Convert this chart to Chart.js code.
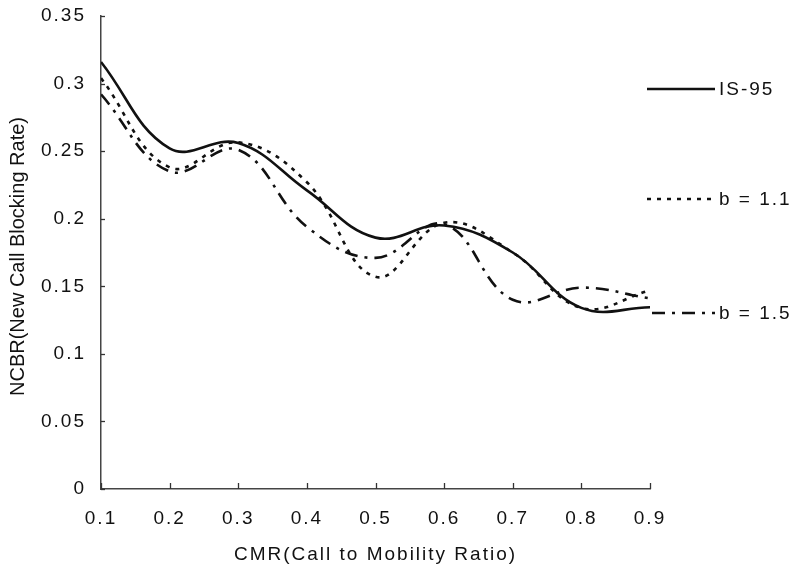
<!DOCTYPE html>
<html><head><meta charset="utf-8">
<script src="https://cdn.jsdelivr.net/npm/chart.js@4/dist/chart.umd.min.js"></script>
<style>html,body{margin:0;padding:0;background:#fff}#wrap{width:795px;height:573px;position:relative}</style>
</head><body><div id="wrap"><canvas id="c" width="795" height="573"></canvas></div>
<script>
const cmr  = [0.1, 0.2, 0.3, 0.4, 0.5, 0.6, 0.7, 0.8, 0.9];
const is95 = [0.316, 0.252, 0.256, 0.221, 0.186, 0.195, 0.175, 0.134, 0.1345];
const b11  = [0.304, 0.238, 0.2565, 0.227, 0.157, 0.197, 0.175, 0.134, 0.147];
const b15  = [0.292, 0.235, 0.251, 0.194, 0.171, 0.196, 0.140, 0.149, 0.141];
const seriesNames = ['IS-95', 'b = 1.1', 'b = 1.5'];
const xTickLabels = ['0.1', '0.2', '0.3', '0.4', '0.5', '0.6', '0.7', '0.8', '0.9'];
const yTickLabels = ['0', '0.05', '0.1', '0.15', '0.2', '0.25', '0.3', '0.35'];
const xTitle = 'CMR(Call to Mobility Ratio)';
const yTitle = 'NCBR(New Call Blocking Rate)';

const FONT = "'Liberation Sans', Arial, Helvetica, sans-serif";
const INK = '#111';
const dashes = [[], [4, 6], [13, 7, 3, 7]];
const legendY = [89, 199, 313];

function pts(arr) { return arr.map((v, i) => ({x: cmr[i], y: v})); }

const spacing = {
  id: 'spacing',
  beforeLayout(chart) { chart.ctx.letterSpacing = '2px'; },
  beforeDraw(chart) {
    const ctx = chart.ctx;
    ctx.letterSpacing = '2px';
    ctx.save(); ctx.fillStyle = '#fff'; ctx.fillRect(0, 0, chart.width, chart.height); ctx.restore();
  }
};

const inwardTicks = {
  id: 'inwardTicks',
  afterDraw(chart) {
    const ctx = chart.ctx, xs = chart.scales.x, ys = chart.scales.y;
    const a = chart.chartArea;
    ctx.save();
    ctx.strokeStyle = '#333'; ctx.lineWidth = 1.3;
    ys.ticks.forEach(t => {
      const p = Math.round(ys.getPixelForValue(t.value)) + 0.5;
      ctx.beginPath(); ctx.moveTo(a.left, p); ctx.lineTo(a.left + 4, p); ctx.stroke();
    });
    xs.ticks.forEach(t => {
      const p = Math.round(xs.getPixelForValue(t.value)) + 0.5;
      ctx.beginPath(); ctx.moveTo(p, a.bottom); ctx.lineTo(p, a.bottom - 6); ctx.stroke();
    });
    // y axis title (drawn here so it can use its own letter spacing)
    ctx.letterSpacing = '0px';
    ctx.translate(18, (a.top + a.bottom) / 2 + 4);
    ctx.rotate(-Math.PI / 2);
    ctx.fillStyle = INK; ctx.font = '20px ' + FONT;
    ctx.textAlign = 'center'; ctx.textBaseline = 'middle';
    ctx.fillText(yTitle, 0, 0);
    ctx.restore();
  }
};

const sideLegend = {
  id: 'sideLegend',
  afterDraw(chart) {
    const ctx = chart.ctx;
    ctx.save();
    ctx.letterSpacing = '2px';
    chart.data.datasets.forEach((ds, i) => {
      const y = legendY[i];
      ctx.strokeStyle = ds.borderColor; ctx.lineWidth = ds.borderWidth;
      ctx.setLineDash(ds.borderDash || []);
      ctx.beginPath(); ctx.moveTo(i === 2 ? 652 : 647, y); ctx.lineTo(715, y); ctx.stroke();
      ctx.setLineDash([]);
      ctx.fillStyle = INK; ctx.font = '19px ' + FONT;
      ctx.textAlign = 'left'; ctx.textBaseline = 'middle';
      ctx.fillText(ds.label, 719, y + 1);
    });
    ctx.restore();
  }
};

const mk = (label, data, dash, w) => ({
  label, data: pts(data), borderColor: INK, backgroundColor: INK,
  borderWidth: w, borderDash: dash, pointRadius: 0, tension: 0.4, fill: false
});

new Chart(document.getElementById('c'), {
  type: 'line',
  data: {
    datasets: [
      mk(seriesNames[0], is95, dashes[0], 2.6),
      mk(seriesNames[1], b11, dashes[1], 2.6),
      mk(seriesNames[2], b15, dashes[2], 2.6)
    ]
  },
  options: {
    responsive: false, animation: false, devicePixelRatio: 1,
    layout: { padding: { top: 16, right: 145, left: 0, bottom: 0 } },
    plugins: { legend: { display: false }, tooltip: { enabled: false } },
    scales: {
      x: {
        type: 'linear', min: 0.1, max: 0.9,
        afterFit(s) { s.height = 84; },
        ticks: { stepSize: 0.1, autoSkip: false, maxRotation: 0, padding: 18, color: INK,
          font: { family: FONT, size: 19 },
          callback: (v) => xTickLabels[Math.round((v - 0.1) / 0.1)] },
        grid: { drawOnChartArea: false, drawTicks: false },
        border: { display: true, color: '#444', width: 1.5 },
        title: { display: true, text: xTitle, color: INK, font: { family: FONT, size: 19 }, padding: { top: 8, bottom: 7 } }
      },
      y: {
        type: 'linear', min: 0, max: 0.35,
        afterFit(s) { s.width = 101; s.paddingTop = 0; s.paddingBottom = 0; },
        ticks: { stepSize: 0.05, padding: 15, color: INK,
          font: { family: FONT, size: 19 },
          callback: (v) => yTickLabels[Math.round(v / 0.05)] },
        grid: { drawOnChartArea: false, drawTicks: false },
        border: { display: true, color: '#444', width: 1.5 },
        title: { display: false, text: yTitle }
      }
    }
  },
  plugins: [spacing, inwardTicks, sideLegend]
});
</script></body></html>
